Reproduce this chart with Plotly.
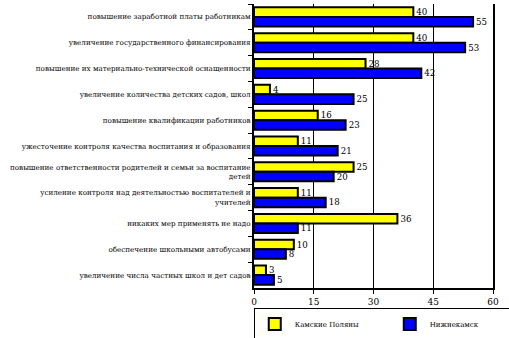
import plotly.graph_objects as go

categories = [
    "повышение заработной платы работникам",
    "увеличение государственного финансирования",
    "повышение их материально-технической оснащенности",
    "увеличение количества детских садов, школ",
    "повышение квалификации работников",
    "ужесточение контроля качества воспитания и образования",
    "повышение ответственности родителей и семьи за воспитание<br>детей",
    "усиление контроля над деятельностью воспитателей и<br>учителей",
    "никаких мер применять не надо",
    "обеспечение школьными автобусами",
    "увеличение числа частных школ и дет садов",
]
kamskie = [40, 40, 28, 4, 16, 11, 25, 11, 36, 10, 3]
nizhnekamsk = [55, 53, 42, 25, 23, 21, 20, 18, 11, 8, 5]
x_ticks = [0, 15, 30, 45, 60]

FONT = "DejaVu Serif"

fig = go.Figure()
fig.add_trace(go.Bar(
    y=categories, x=kamskie, orientation="h", name="Камские Поляны",
    marker=dict(color="#ffff00", line=dict(color="black", width=2)),
    text=kamskie, textposition="outside", cliponaxis=False,
    textfont=dict(family=FONT, size=10, color="black"),
))
fig.add_trace(go.Bar(
    y=categories, x=nizhnekamsk, orientation="h", name="Нижнекамск",
    marker=dict(color="#0000ff", line=dict(color="black", width=2)),
    text=nizhnekamsk, textposition="outside", cliponaxis=False,
    textfont=dict(family=FONT, size=10, color="black"),
))

fig.update_layout(
    width=509, height=338,
    margin=dict(l=254, r=16, t=4, b=50, autoexpand=False),
    paper_bgcolor="white", plot_bgcolor="white",
    barmode="group", bargap=0.26, bargroupgap=0.0,
    font=dict(family=FONT, size=9, color="black"),
    showlegend=True,
    legend=dict(
        orientation="h", x=-0.001, xanchor="left", y=-0.072, yanchor="top",
        bordercolor="black", borderwidth=1, font=dict(family=FONT, size=7),
        entrywidth=90, itemwidth=30, tracegroupgap=0,
    ),
    xaxis=dict(
        range=[0, 60], tickvals=x_ticks, ticks="outside", ticklen=4,
        tickcolor="black", showgrid=True, gridcolor="black", gridwidth=1,
        showline=True, linecolor="black", linewidth=2, zeroline=False,
        tickfont=dict(family=FONT, size=9), automargin=False,
    ),
    yaxis=dict(
        autorange="reversed", ticks="outside", ticklen=4, tickcolor="black",
        tickson="boundaries", showline=True, linecolor="black", linewidth=2,
        mirror=True, showgrid=False, tickfont=dict(family=FONT, size=7.2),
        automargin=False,
    ),
)

fig.write_html("out.html")
